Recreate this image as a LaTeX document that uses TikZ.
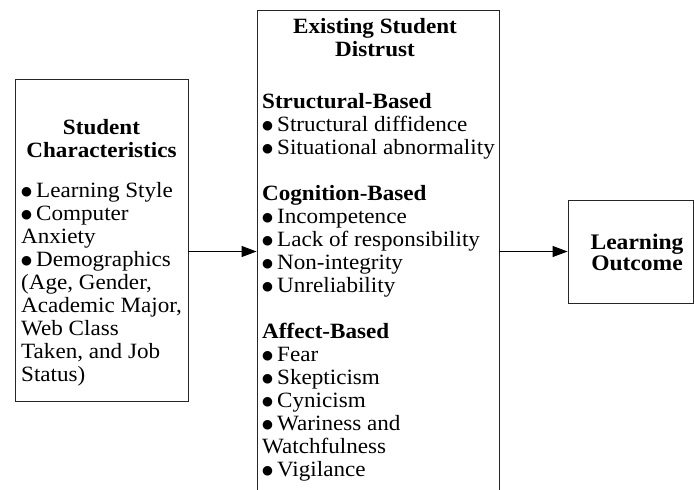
\documentclass[tikz,border=0pt]{standalone}
\usepackage{fontspec}
\setmainfont{Liberation Serif}[FakeStretch=1.06]
\newfontfamily\symf{DejaVu Sans}
\newcommand\bul{\makebox[15pt][l]{\raisebox{1.3pt}{\symf\fontsize{12.5}{12.5}\selectfont ●}}}
\usetikzlibrary{arrows.meta}
\begin{document}
\begin{tikzpicture}[x=1pt,y=-1pt,
  box/.style={draw=black!85,line width=0.9pt,inner sep=0pt},
  txt/.style={inner sep=0pt,align=left,font=\fontsize{21.8}{23}\selectfont},
  ttl/.style={inner sep=0pt,align=center,font=\fontsize{21.8}{23}\selectfont\bfseries},
  arr/.style={line width=0.9pt,-{Triangle[length=15pt,width=11pt]}}]
\useasboundingbox (0,0) rectangle (694,490);
\clip (0,0) rectangle (694,490);
\node[box,minimum width=173pt,minimum height=322pt] (L) at (101.5,240) {};
\node[box,minimum width=242pt,minimum height=520pt] (M) at (378,270) {};
\node[box,minimum width=125pt,minimum height=103pt] (R) at (630.5,251.5) {};
% base anchor = baseline of the last line
\node[ttl,anchor=base] (Lt) at (101.5,157) {Student\\Characteristics};
\node[txt,anchor=base west] (Ll) at (21,381) {\bul Learning Style\\\bul Computer\\Anxiety\\\bul Demographics\\(Age, Gender,\\Academic Major,\\Web Class\\Taken, and Job\\Status)};
\node[ttl,anchor=base] (Mt) at (375,56) {Existing Student\\Distrust};
\node[txt,anchor=base west] (Ml) at (262,476) {\textbf{Structural-Based}\\\bul Structural diffidence\\\bul Situational abnormality\\[23pt]\textbf{Cognition-Based}\\\bul Incompetence\\\bul Lack of responsibility\\\bul Non-integrity\\\bul Unreliability\\[23pt]\textbf{Affect-Based}\\\bul Fear\\\bul Skepticism\\\bul Cynicism\\\bul Wariness and\\Watchfulness\\\bul Vigilance};
\node[ttl,anchor=base,font=\fontsize{22.2}{21}\selectfont\bfseries] (Rt) at (637,270) {Learning\\Outcome};
\draw[arr] (L.east |- R.west) -- (M.west |- R.west);
\draw[arr] (M.east |- R.west) -- (R.west);
\end{tikzpicture}
\end{document}
